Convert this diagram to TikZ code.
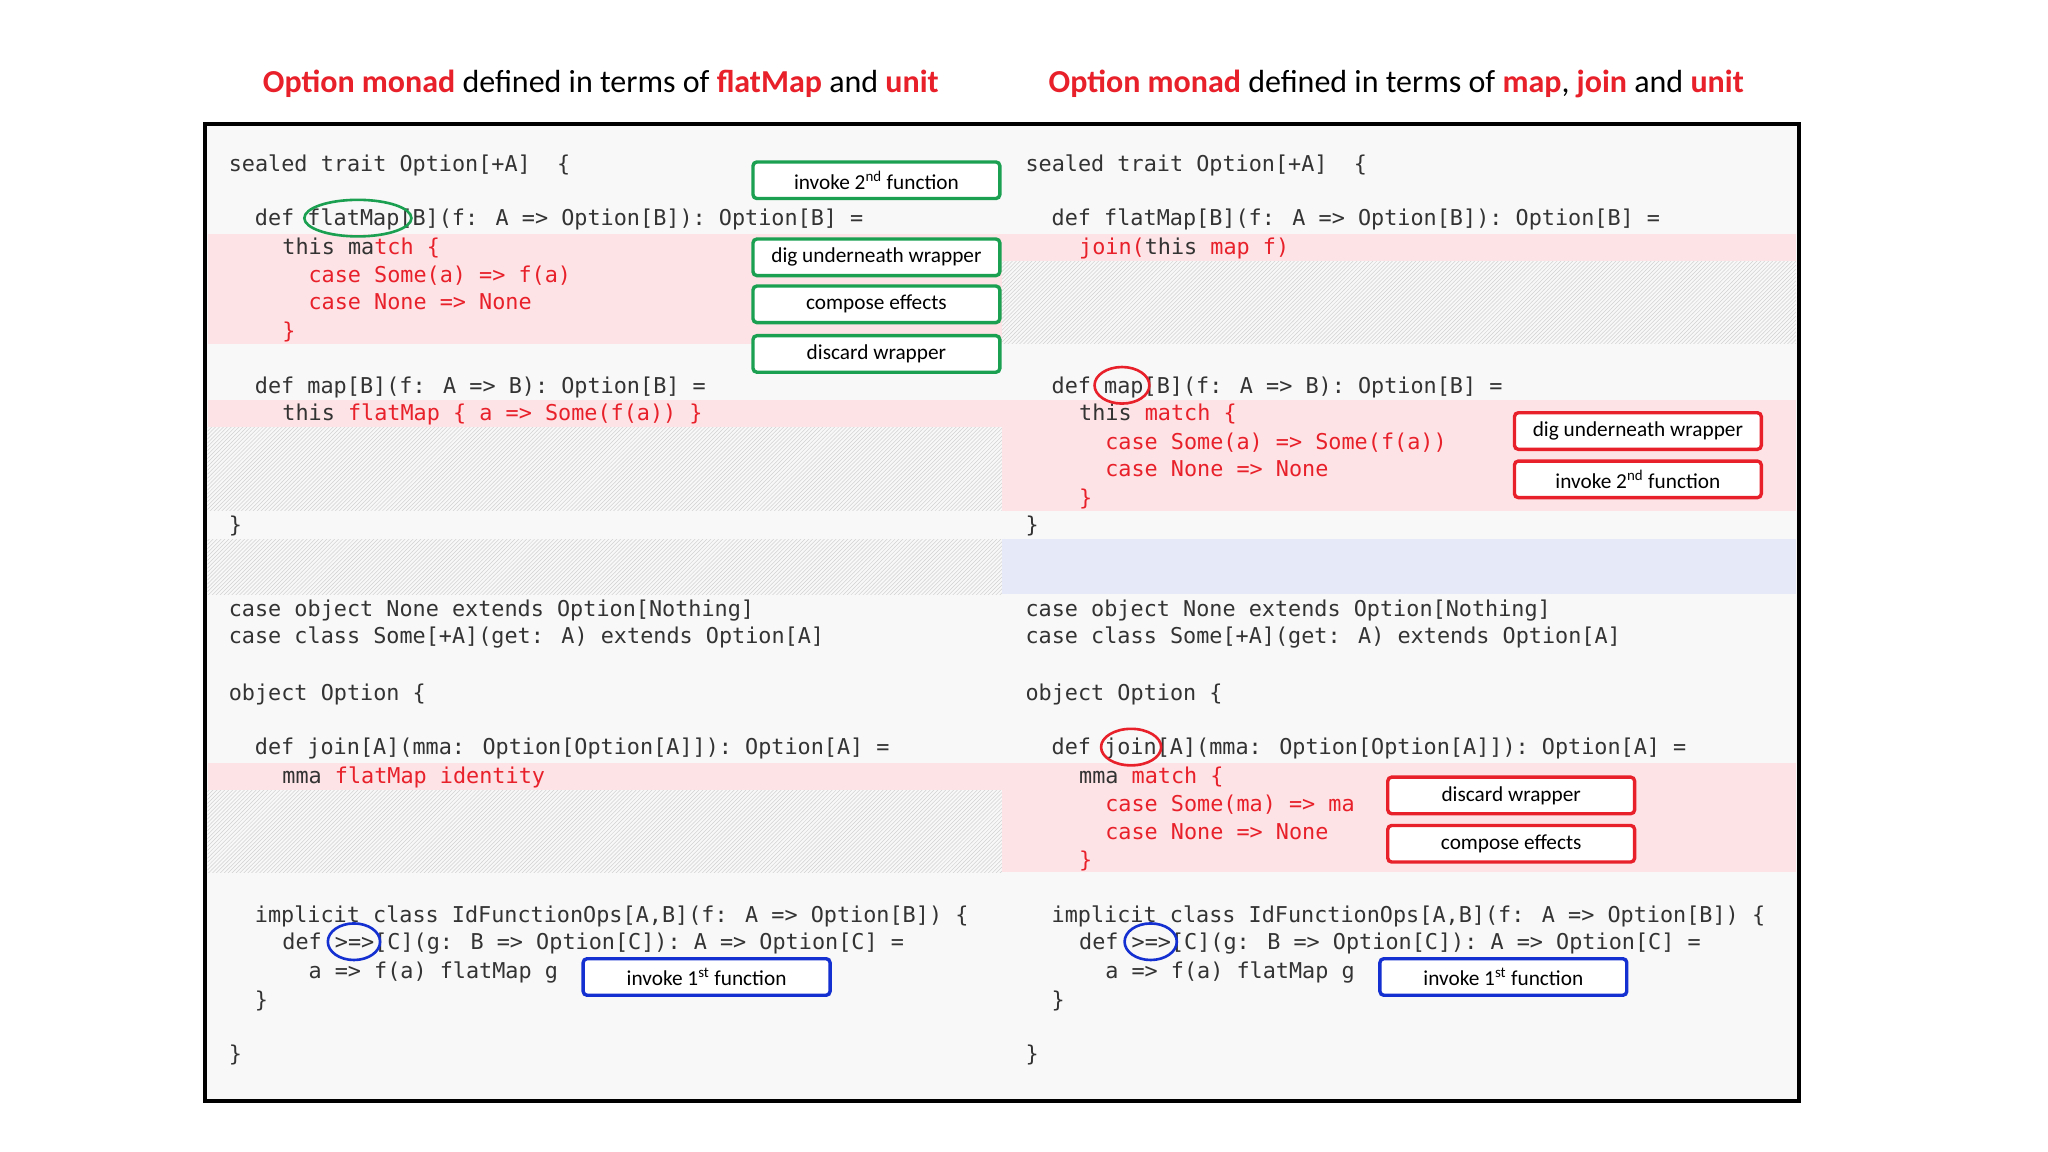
\documentclass[tikz,border=0pt]{standalone}
\usepackage{fontspec}
\setmainfont{Carlito}
\newfontfamily\codefont{DejaVu Sans Mono}[Scale=1]
\usetikzlibrary{patterns}
\definecolor{cred}{HTML}{E8202A}
\definecolor{cgreen}{HTML}{1AA050}
\definecolor{cblue}{HTML}{1530D0}
\definecolor{cpink}{HTML}{FDE3E5}
\definecolor{cbluebg}{HTML}{E6EAF8}
\definecolor{codegray}{HTML}{333333}
\definecolor{panel}{HTML}{F8F8F8}
\newcommand{\R}[1]{{\color{cred}#1}}
\begin{document}
\begin{tikzpicture}[x=1pt,y=-1pt,
  code/.style={anchor=base west,inner sep=0,font=\codefont\fontsize{16.7}{18}\selectfont,text=codegray},
  lbl/.style={draw=#1,line width=2.6pt,rounded corners=3pt,fill=white,minimum width=189pt,minimum height=28pt,inner sep=0,font=\fontsize{16.3}{18}\selectfont,text=black},
  title/.style={font=\fontsize{24.5}{27}\selectfont,anchor=base,inner sep=0}]
\useasboundingbox (0,0) rectangle (1568,882);
\fill[white] (0,0) rectangle (1568,882);
% panels
\fill[panel] (157,95) rectangle (1377,843);
% left bands
\fill[cpink] (159,179) rectangle (767,263);
\fill[cpink] (159,306) rectangle (767,327);
\fill[pattern=north east lines,pattern color=gray!35] (159,327) rectangle (767,391);
\fill[pattern=north east lines,pattern color=gray!35] (159,413) rectangle (767,455);
\fill[cpink] (159,584) rectangle (767,605);
\fill[pattern=north east lines,pattern color=gray!35] (159,605) rectangle (767,668);
% right bands
\fill[cpink] (767,179) rectangle (1375,200);
\fill[pattern=north east lines,pattern color=gray!35] (767,200) rectangle (1375,263);
\fill[cpink] (767,306) rectangle (1375,391);
\fill[cbluebg] (767,413) rectangle (1375,455);
\fill[cpink] (767,584) rectangle (1375,668);
\draw[line width=3pt] (157,95) rectangle (1377,843);
% titles
\node[title] (t1) at (460,71) {\textbf{\color{cred}Option monad} defined in terms of \textbf{\color{cred}flatMap} and \textbf{\color{cred}unit}};
\node[title] (t2) at (1069,71) {\textbf{\color{cred}Option monad} defined in terms of \textbf{\color{cred}map}, \textbf{\color{cred}join} and \textbf{\color{cred}unit}};
% left code
\node[code] (l1) at (175,131) {sealed trait Option[+A]\ \ \{};
\node[code] (l2) at (195,173) {def flatMap[B](f: A => Option[B]): Option[B] =};
\node[code] (l3) at (216,195) {this ma\R{tch \{}};
\node[code] (l4) at (236,216) {\R{case Some(a) => f(a)}};
\node[code] (l5) at (236,237) {\R{case None => None}};
\node[code] (l6) at (216,259) {\R{\}}};
\node[code] (l7) at (195,301) {def map[B](f: A => B): Option[B] =};
\node[code] (l8) at (216,322) {this \R{flatMap \{ a => Some(f(a)) \}}};
\node[code] (l9) at (175,408) {\}};
\node[code] (l10) at (175,472) {case object None extends Option[Nothing]};
\node[code] (l11) at (175,493) {case class Some[+A](get: A) extends Option[A]};
\node[code] (l12) at (175,536) {object Option \{};
\node[code] (l13) at (195,578) {def join[A](mma: Option[Option[A]]): Option[A] =};
\node[code] (l14) at (216,600) {mma \R{flatMap identity}};
\node[code] (l15) at (195,706) {implicit class IdFunctionOps[A,B](f: A => Option[B]) \{};
\node[code] (l16) at (216,727) {def >=>[C](g: B => Option[C]): A => Option[C] =};
\node[code] (l17) at (236,749) {a => f(a) flatMap g};
\node[code] (l18) at (195,771) {\}};
\node[code] (l19) at (175,813) {\}};
% right code
\node[code] (r1) at (785,131) {sealed trait Option[+A]\ \ \{};
\node[code] (r2) at (805,173) {def flatMap[B](f: A => Option[B]): Option[B] =};
\node[code] (r3) at (826,195) {\R{join(}this \R{map f)}};
\node[code] (r4) at (805,301) {def map[B](f: A => B): Option[B] =};
\node[code] (r5) at (826,322) {this \R{match \{}};
\node[code] (r6) at (846,344) {\R{case Some(a) => Some(f(a))}};
\node[code] (r7) at (846,365) {\R{case None => None}};
\node[code] (r8) at (826,387) {\R{\}}};
\node[code] (r9) at (785,408) {\}};
\node[code] (r10) at (785,472) {case object None extends Option[Nothing]};
\node[code] (r11) at (785,493) {case class Some[+A](get: A) extends Option[A]};
\node[code] (r12) at (785,536) {object Option \{};
\node[code] (r13) at (805,578) {def join[A](mma: Option[Option[A]]): Option[A] =};
\node[code] (r14) at (826,600) {mma \R{match \{}};
\node[code] (r15) at (846,621) {\R{case Some(ma) => ma}};
\node[code] (r16) at (846,643) {\R{case None => None}};
\node[code] (r17) at (826,664) {\R{\}}};
\node[code] (r18) at (805,706) {implicit class IdFunctionOps[A,B](f: A => Option[B]) \{};
\node[code] (r19) at (826,727) {def >=>[C](g: B => Option[C]): A => Option[C] =};
\node[code] (r20) at (846,749) {a => f(a) flatMap g};
\node[code] (r21) at (805,771) {\}};
\node[code] (r22) at (785,813) {\}};
% label boxes
\node[lbl=cgreen] (g1) at (671,138) {invoke 2\textsuperscript{nd} function};
\node[lbl=cgreen] (g2) at (671,197) {dig underneath wrapper};
\node[lbl=cgreen] (g3) at (671,233) {compose effects};
\node[lbl=cgreen] (g4) at (671,271) {discard wrapper};
\node[lbl=cred] (rb1) at (1254,330) {dig underneath wrapper};
\node[lbl=cred] (rb2) at (1254,367) {invoke 2\textsuperscript{nd} function};
\node[lbl=cred] (rb3) at (1157,609) {discard wrapper};
\node[lbl=cred] (rb4) at (1157,646) {compose effects};
\node[lbl=cblue] (b1) at (541,748) {invoke 1\textsuperscript{st} function};
\node[lbl=cblue] (b2) at (1151,748) {invoke 1\textsuperscript{st} function};
% ellipses
\draw[cgreen,line width=2pt] (274,167) ellipse [x radius=41,y radius=14];
\draw[cred,line width=2pt] (859,295) ellipse [x radius=21,y radius=14];
\draw[cred,line width=2pt] (866,572) ellipse [x radius=23,y radius=14];
\draw[cblue,line width=2pt] (271,721) ellipse [x radius=20,y radius=14];
\draw[cblue,line width=2pt] (881,721) ellipse [x radius=20,y radius=14];
\end{tikzpicture}
\end{document}
